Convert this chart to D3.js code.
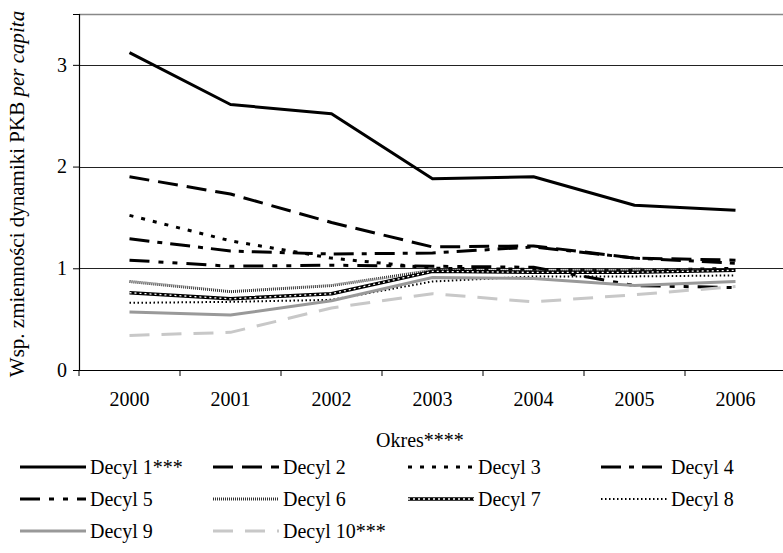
<!DOCTYPE html>
<html>
<head>
<meta charset="utf-8">
<script src="https://cdn.jsdelivr.net/npm/d3@7"></script>
<style>
  body { margin: 0; background: #fff; }
  svg text { font-family: "Liberation Serif", "Times New Roman", Times, serif; }
</style>
</head>
<body>
<div id="chart"></div>
<script>
// years on the x axis
const years = ['2000', '2001', '2002', '2003', '2004', '2005', '2006'];
const yTicks = [0, 1, 2, 3];

// one array per decile
const decyl1 = [3.12, 2.61, 2.52, 1.88, 1.90, 1.62, 1.57];
const decyl2 = [1.90, 1.73, 1.45, 1.21, 1.22, 1.10, 1.08];
const decyl3 = [1.52, 1.27, 1.10, 1.00, 0.99, 0.98, 1.00];
const decyl4 = [1.29, 1.17, 1.14, 1.15, 1.21, 1.10, 1.05];
const decyl5 = [1.08, 1.02, 1.03, 1.02, 1.01, 0.83, 0.81];
const decyl6 = [0.87, 0.77, 0.83, 0.98, 0.97, 0.99, 0.98];
const decyl7 = [0.76, 0.70, 0.75, 0.97, 0.96, 0.96, 0.98];
const decyl8 = [0.66, 0.67, 0.69, 0.87, 0.92, 0.92, 0.93];
const decyl9 = [0.57, 0.54, 0.68, 0.91, 0.90, 0.83, 0.87];
const decyl10 = [0.34, 0.37, 0.61, 0.75, 0.67, 0.74, 0.82];

const names = ['Decyl 1***', 'Decyl 2', 'Decyl 3', 'Decyl 4', 'Decyl 5',
               'Decyl 6', 'Decyl 7', 'Decyl 8', 'Decyl 9', 'Decyl 10***'];
const values = [decyl1, decyl2, decyl3, decyl4, decyl5, decyl6, decyl7, decyl8, decyl9, decyl10];

// line looks (Excel style)
const styles = [
  { color: '#000', width: 3, dash: null },
  { color: '#000', width: 3, dash: '20,9' },
  { color: '#000', width: 3, dash: '4,8' },
  { color: '#000', width: 3, dash: '20,8,5,8' },
  { color: '#000', width: 3, dash: '20,9,5,9,5,9' },
  { color: '#333', width: 3, dash: '1,1' },
  { color: '#000', width: 3.5, dash: null, inner: true },
  { color: '#000', width: 2, dash: '1.5,2.5' },
  { color: '#999', width: 3, dash: null },
  { color: '#c8c8c8', width: 3, dash: '20,12' }
];

const SERIF = '"Liberation Serif", "Times New Roman", Times, serif';
const W = 783, H = 553;
const mLeft = 79, mTop = 14, mRight = 786, mBottom = 370;

const svg = d3.select('#chart').append('svg')
  .attr('width', W)
  .attr('height', H)
  .attr('font-family', SERIF);

const x = d3.scaleBand().domain(years).range([mLeft, mRight]);
const y = d3.scaleLinear().domain([0, 3.5]).range([mBottom, mTop]);

// frame top
svg.append('line')
  .attr('x1', mLeft).attr('x2', mRight)
  .attr('y1', mTop + 0.5).attr('y2', mTop + 0.5)
  .attr('stroke', '#888').attr('stroke-width', 1.5);

// gridlines
svg.append('g')
  .selectAll('line')
  .data(yTicks.slice(1))
  .enter()
  .append('line')
  .attr('x1', mLeft).attr('x2', mRight)
  .attr('y1', d => Math.round(y(d)) + 0.5)
  .attr('y2', d => Math.round(y(d)) + 0.5)
  .attr('stroke', '#222');

// axes
const yAxis = svg.append('g')
  .attr('transform', `translate(${mLeft},0)`)
  .call(d3.axisLeft(y).tickValues(yTicks).tickFormat(d3.format('d')).tickSizeOuter(0).tickSize(6).tickPadding(6));

const xAxis = svg.append('g')
  .attr('transform', `translate(0,${mBottom})`)
  .call(d3.axisBottom(x).tickSize(0).tickPadding(22));

// x ticks sit between the categories
svg.append('g')
  .selectAll('line')
  .data(years.concat(['end']))
  .enter()
  .append('line')
  .attr('x1', (d, i) => mLeft + i * x.bandwidth())
  .attr('x2', (d, i) => mLeft + i * x.bandwidth())
  .attr('y1', mBottom).attr('y2', mBottom + 6)
  .attr('stroke', '#000');

[yAxis, xAxis].forEach(g => {
  g.attr('font-family', SERIF).attr('font-size', 20);
  g.select('.domain').attr('stroke', '#000').attr('stroke-width', 1.2);
  g.selectAll('.tick line').attr('stroke', '#000');
  g.selectAll('text').attr('fill', '#000');
});

// series
const line = d3.line()
  .x((d, i) => x(years[i]) + x.bandwidth() / 2)
  .y(d => y(d));

function drawPath(g, path, st) {
  const p = g.append('path')
    .attr('d', path)
    .attr('fill', 'none')
    .attr('stroke', st.color)
    .attr('stroke-width', st.width)
    .attr('stroke-linejoin', 'round');
  if (st.dash) p.attr('stroke-dasharray', st.dash);
  if (st.inner) {
    g.append('path')
      .attr('d', path)
      .attr('fill', 'none')
      .attr('stroke', '#fff')
      .attr('stroke-width', 1.3)
      .attr('stroke-dasharray', '2,3');
  }
}

const series = svg.append('g');
values.forEach((v, i) => drawPath(series, line(v), styles[i]));

// y title
const yt = svg.append('text')
  .attr('transform', `translate(24,${(mTop + mBottom) / 2 + 2}) rotate(-90)`)
  .attr('text-anchor', 'middle')
  .attr('font-size', 21);
yt.append('tspan').text('Wsp. zmienności dynamiki PKB ');
yt.append('tspan').attr('font-style', 'italic').text('per capita');

// x title
svg.append('text')
  .attr('x', 420).attr('y', 447)
  .attr('text-anchor', 'middle')
  .attr('font-size', 20)
  .text('Okres****');

// legend, 4 per row
const legendCols = [20, 213, 408, 601];
const legendRows = [467, 499, 531];
const leg = svg.append('g');
names.forEach((n, i) => {
  const cx = legendCols[i % 4];
  const cy = legendRows[Math.floor(i / 4)];
  const g = leg.append('g');
  drawPath(g, `M${cx},${cy}L${cx + 66},${cy}`, styles[i]);
  g.append('text')
    .attr('x', cx + 70).attr('y', cy + 7)
    .attr('font-size', 20)
    .text(n);
});
</script>
</body>
</html>
